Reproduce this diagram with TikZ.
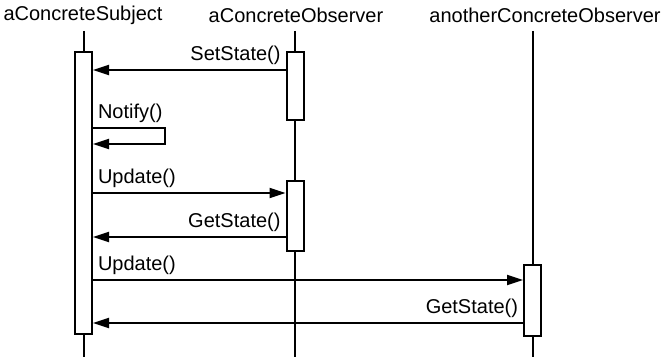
\documentclass[tikz,border=0pt]{standalone}
\usepackage{fontspec}
\setmainfont{Liberation Sans}
\usetikzlibrary{arrows.meta, positioning}

\begin{document}
\begin{tikzpicture}[
    x=0.5pt, y=-0.5pt,
    head/.style={font=\fontsize{10}{12}\selectfont, inner sep=0pt},
    act/.style={rectangle, draw, fill=white, line width=1pt, inner sep=0pt, minimum width=8.5pt},
    life/.style={draw, line width=1pt},
    msg/.style={draw, line width=1pt, -{Triangle[length=8pt, width=5pt]}},
    lbl/.style={font=\fontsize{10}{12}\selectfont, inner sep=2pt}
]
    \useasboundingbox (0,0) rectangle (662,357);

    % Lifelines
    \node [head] (hsubj) at (83,15) {aConcreteSubject};
    \node [head] (hobs) at (296,15) {aConcreteObserver};
    \node [head] (hother) at (545,15) {anotherConcreteObserver};
    \path [life] (83.5,31) -- (83.5,357);
    \path [life] (295,31) -- (295,357);
    \path [life] (532.5,31) -- (532.5,357);

    % Activations
    \node [act, minimum height=141pt] (subj) at (83.5,193) {};
    \node [act, minimum height=34pt] (obs1) at (295,86) {};
    \node [act, minimum height=35pt] (obs2) at (295,216) {};
    \node [act, minimum height=35.5pt] (other) at (532.5,300.5) {};

    % Messages
    \path [msg] (obs1.west |- 0,70) -- (subj.east |- 0,70) node[lbl, pos=0, above left] {SetState()};
    \coordinate (loop) at (165,128);
    \path [msg] (subj.east |- loop) node[lbl, above right] {Notify()} -- (loop) |- (subj.east |- 0,144);
    \path [msg] (subj.east |- 0,193) -- (obs2.west |- 0,193) node[lbl, pos=0, above right] {Update()};
    \path [msg] (obs2.west |- 0,237) -- (subj.east |- 0,237) node[lbl, pos=0, above left] {GetState()};
    \path [msg] (subj.east |- 0,280) -- (other.west |- 0,280) node[lbl, pos=0, above right] {Update()};
    \path [msg] (other.west |- 0,323) -- (subj.east |- 0,323) node[lbl, pos=0, above left] {GetState()};
\end{tikzpicture}
\end{document}
